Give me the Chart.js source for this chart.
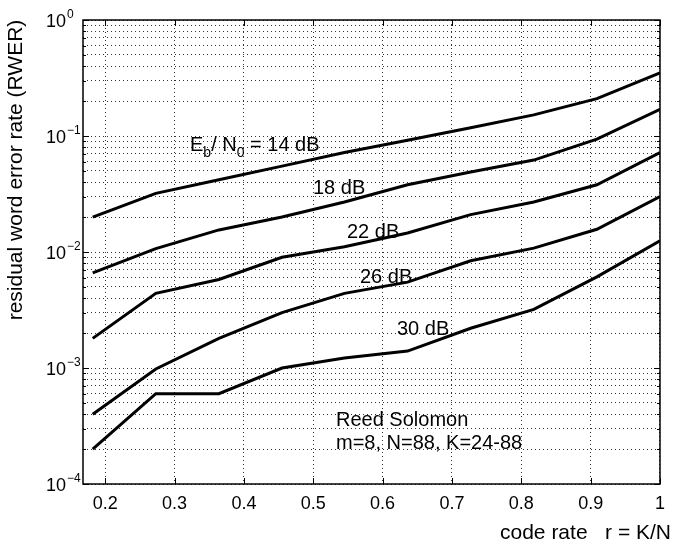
<!DOCTYPE html>
<html>
<head>
<meta charset="utf-8">
<script src="https://cdn.jsdelivr.net/npm/chart.js@4"></script>
<style>
  html,body{margin:0;padding:0;background:#fff;}
  #wrap{width:674px;height:545px;}
</style>
</head>
<body>
<div id="wrap"><canvas id="c" width="674" height="545"></canvas></div>
<script>
// --- Data ---
const codeRate = [0.182, 0.273, 0.364, 0.455, 0.545, 0.636, 0.727, 0.818, 0.909, 1.0];
const rwer14 = [0.020, 0.032, 0.042, 0.055, 0.072, 0.092, 0.118, 0.152, 0.21, 0.35];
const rwer18 = [0.0066, 0.0107, 0.0155, 0.020, 0.027, 0.038, 0.049, 0.062, 0.094, 0.17];
const rwer22 = [0.0018, 0.0044, 0.0058, 0.0090, 0.0111, 0.0146, 0.021, 0.027, 0.038, 0.072];
const rwer26 = [0.0004, 0.00098, 0.0018, 0.0030, 0.0044, 0.0055, 0.0084, 0.0108, 0.0157, 0.030];
const rwer30 = [0.0002, 0.0006, 0.0006, 0.0010, 0.00122, 0.0014, 0.0022, 0.0032, 0.0061, 0.0125];
const xTicks = [0.2, 0.3, 0.4, 0.5, 0.6, 0.7, 0.8, 0.9, 1];
const yDecades = [-4, -3, -2, -1, 0];

const FONT = '"Liberation Sans", Arial, Helvetica, sans-serif';

function pts(ys){ return codeRate.map((x,i)=>({x:x,y:ys[i]})); }
function line(ys){
  return {data:pts(ys), borderColor:'#000', borderWidth:3, pointRadius:0, tension:0, fill:false};
}

// log grid positions: 1..9 x 10^k
const yGrid = [];
yDecades.forEach(e=>{
  if(e===0){ yGrid.push(1); return; }
  for(let m=1;m<=9;m++) yGrid.push(m*Math.pow(10,e));
});

const decor = {
  id:'decor',
  afterDraw(chart){
    const ctx=chart.ctx, a=chart.chartArea;
    const xs=chart.scales.x, ys=chart.scales.y;
    ctx.save();
    ctx.setLineDash([]);
    ctx.strokeStyle='#000';
    // inward tick marks
    ctx.lineWidth=1;
    xTicks.forEach(v=>{
      const px=Math.round(xs.getPixelForValue(v))+0.5;
      ctx.beginPath();
      ctx.moveTo(px,a.bottom); ctx.lineTo(px,a.bottom-6);
      ctx.moveTo(px,a.top); ctx.lineTo(px,a.top+6);
      ctx.stroke();
    });
    yGrid.forEach(v=>{
      const major=Math.abs(Math.log10(v)-Math.round(Math.log10(v)))<1e-9;
      const len=major?6:3;
      const py=Math.round(ys.getPixelForValue(v))+0.5;
      ctx.beginPath();
      ctx.moveTo(a.left,py); ctx.lineTo(a.left+len,py);
      ctx.moveTo(a.right,py); ctx.lineTo(a.right-len,py);
      ctx.stroke();
    });
    // box
    ctx.lineWidth=1.5;
    ctx.strokeRect(a.left,a.top,a.right-a.left,a.bottom-a.top);

    ctx.fillStyle='#000';
    ctx.textBaseline='alphabetic';
    // y tick labels 10^k
    yDecades.forEach(e=>{
      const py=ys.getPixelForValue(Math.pow(10,e));
      ctx.font='18px '+FONT;
      ctx.textAlign='left';
      ctx.fillText('10',46,py+6.5);
      const w=ctx.measureText('10').width;
      ctx.font='12px '+FONT;
      ctx.fillText(e===0?'0':'\u2212'+(-e),46+w+1,py-2.5);
    });

    // curve labels
    ctx.font='20px '+FONT;
    let x=190; const by=151;
    const seg=(t,f,dy)=>{ ctx.font=f+'px '+FONT; ctx.fillText(t,x,by+dy); x+=ctx.measureText(t).width; };
    seg('E',20,0); seg('b',14,6); seg('/ N',20,0); seg('0',14,6); seg(' = 14 dB',20,0);
    ctx.font='20px '+FONT;
    ctx.fillText('18 dB',313,194);
    ctx.fillText('22 dB',347,238);
    ctx.fillText('26 dB',360,283);
    ctx.fillText('30 dB',397,335);
    ctx.fillText('Reed Solomon',336,426);
    ctx.fillText('m=8, N=88, K=24-88',336,449);

    // axis titles
    ctx.font='21px '+FONT;
    ctx.textAlign='right';
    ctx.fillText('code rate   r = K/N',671,539);
    ctx.save();
    ctx.translate(22,170);
    ctx.rotate(-Math.PI/2);
    ctx.textAlign='center';
    ctx.fillText('residual word error rate (RWER)',0,0);
    ctx.restore();
    ctx.restore();
  }
};

const gridOpts = {color:'rgba(0,0,0,0.8)', lineWidth:1, drawTicks:false};
const borderOpts = {display:false, dash:[1,3]};

new Chart(document.getElementById('c').getContext('2d'),{
  type:'line',
  data:{datasets:[line(rwer14),line(rwer18),line(rwer22),line(rwer26),line(rwer30)]},
  options:{
    responsive:false,
    animation:false,
    layout:{padding:{top:20,right:5,left:0,bottom:0}},
    plugins:{legend:{display:false},tooltip:{enabled:false}},
    scales:{
      x:{
        type:'linear', min:0.168, max:1,
        afterBuildTicks:s=>{ s.ticks=xTicks.map(v=>({value:v})); },
        afterFit:s=>{ s.height=61; },
        border:borderOpts,
        grid:gridOpts,
        ticks:{color:'#000', font:{family:FONT,size:18}, padding:9, maxRotation:0,
          callback:v=>v===1?'1':v.toFixed(1)}
      },
      y:{
        type:'logarithmic', min:1e-4, max:1,
        afterBuildTicks:s=>{ s.ticks=yGrid.map(v=>({value:v})); },
        afterFit:s=>{ s.width=83; },
        border:borderOpts,
        grid:gridOpts,
        ticks:{display:false, autoSkip:false}
      }
    }
  },
  plugins:[decor]
});
</script>
</body>
</html>
